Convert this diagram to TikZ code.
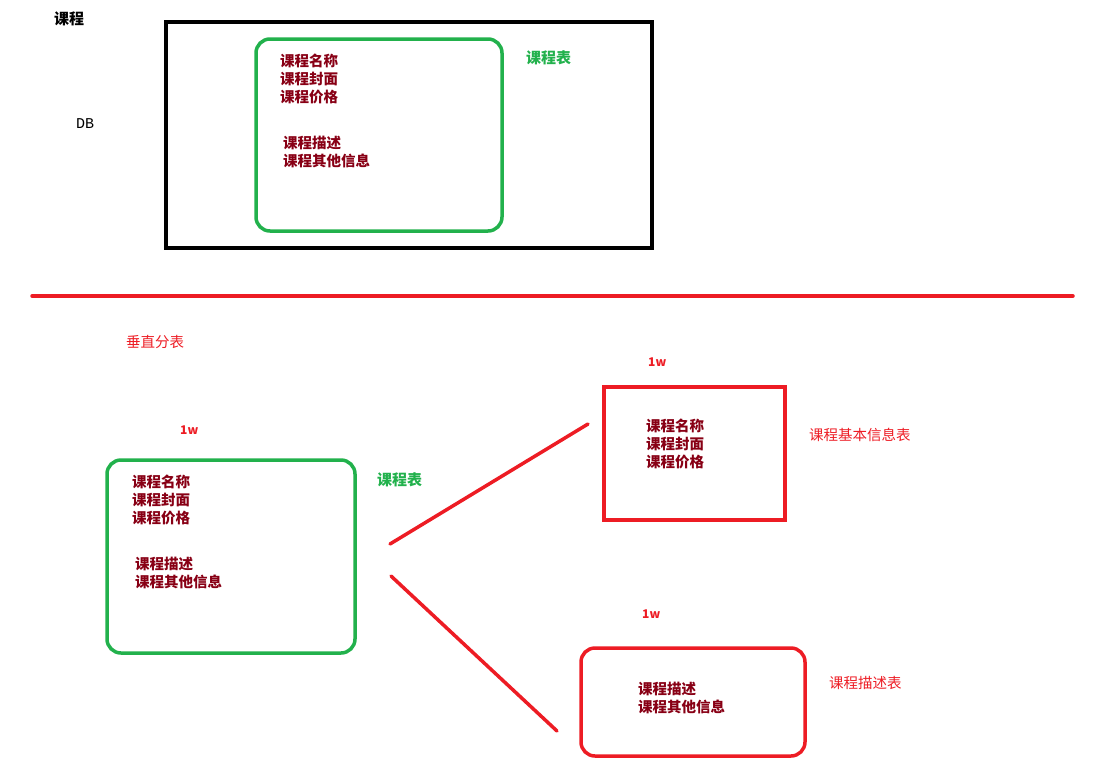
\documentclass[tikz,border=0pt]{standalone}
\usepackage{fontspec}
\newfontfamily\cjk{Noto Sans CJK SC}
\setmonofont{Liberation Mono}
\definecolor{pgreen}{RGB}{34,177,76}
\definecolor{pred}{RGB}{237,28,36}
\definecolor{dred}{RGB}{136,0,21}
\begin{document}
\begin{tikzpicture}[x=1pt,y=-1pt,
  txt/.style={font=\cjk\bfseries\fontsize{14.5}{18}\selectfont, align=left, inner sep=0pt, anchor=west},
  field/.style={txt, text=dred},
  glab/.style={txt, text=pgreen, font=\cjk\bfseries\fontsize{15}{18}\selectfont},
  rlab/.style={txt, text=pred, font=\cjk\fontsize{14.5}{16}\selectfont},
  oneW/.style={txt, text=pred, font=\cjk\bfseries\fontsize{12}{13}\selectfont},
  gbox/.style={draw=pgreen, line width=3.5pt, rounded corners=14pt, outer sep=0pt, inner sep=0pt},
  rbox/.style={draw=pred, line width=3.5pt, outer sep=0pt, inner sep=0pt},
  rrbox/.style={draw=pred, line width=3.5pt, rounded corners=14pt, outer sep=0pt, inner sep=0pt},
  redline/.style={draw=pred, line width=3.5pt, line cap=round}]
\useasboundingbox (0,0) rectangle (1095,769);
% top part
\node[txt, text=black, font=\cjk\bfseries\fontsize{15}{18}\selectfont] (title) at (54,19) {课程};
\node[anchor=west, inner sep=0pt, font=\ttfamily\fontsize{15}{17}\selectfont] (db) at (76,124) {DB};
\draw[line width=3.5pt] (166,22) rectangle (652,248);
\node[gbox, minimum width=246pt, minimum height=192pt, anchor=north west] (tbl) at (256,39) {};
\node[field] (f1) at (280,79) {课程名称\\课程封面\\课程价格};
\node[field] (f2) at (283,152) {课程描述\\课程其他信息};
\node[glab] (tlab) at (526,58) {课程表};
% divider
\coordinate (dl) at (32,296);
\coordinate (dr) at (1073,296);
\draw[redline] (dl) -- (dr);
% bottom part
\node[rlab] (vs) at (126,342) {垂直分表};
\node[oneW] (w1) at (180,430) {1w};
\node[gbox, minimum width=248pt, minimum height=193pt, anchor=north west] (src) at (107,460) {};
\node[field] (s1) at (132,500) {课程名称\\课程封面\\课程价格};
\node[field] (s2) at (135,573) {课程描述\\课程其他信息};
\node[glab] (slab) at (377,480) {课程表};
% split lines
\coordinate (a1) at (390,544);
\coordinate (a2) at (588,424);
\coordinate (b1) at (391,576);
\coordinate (b2) at (557,731);
\draw[redline] (a1) -- (a2);
\draw[redline] (b1) -- (b2);
% basic info table
\node[oneW] (w2) at (648,362) {1w};
\node[rbox, minimum width=181pt, minimum height=133pt, anchor=north west] (basic) at (604,387) {};
\node[field] (b1t) at (646,444) {课程名称\\课程封面\\课程价格};
\node[rlab] (blab) at (809,435) {课程基本信息表};
% description table
\node[oneW] (w3) at (642,614) {1w};
\node[rrbox, minimum width=224pt, minimum height=108pt, anchor=north west] (desc) at (581,648) {};
\node[field] (d1t) at (638,698) {课程描述\\课程其他信息};
\node[rlab] (dlab) at (829,683) {课程描述表};
\end{tikzpicture}
\end{document}
